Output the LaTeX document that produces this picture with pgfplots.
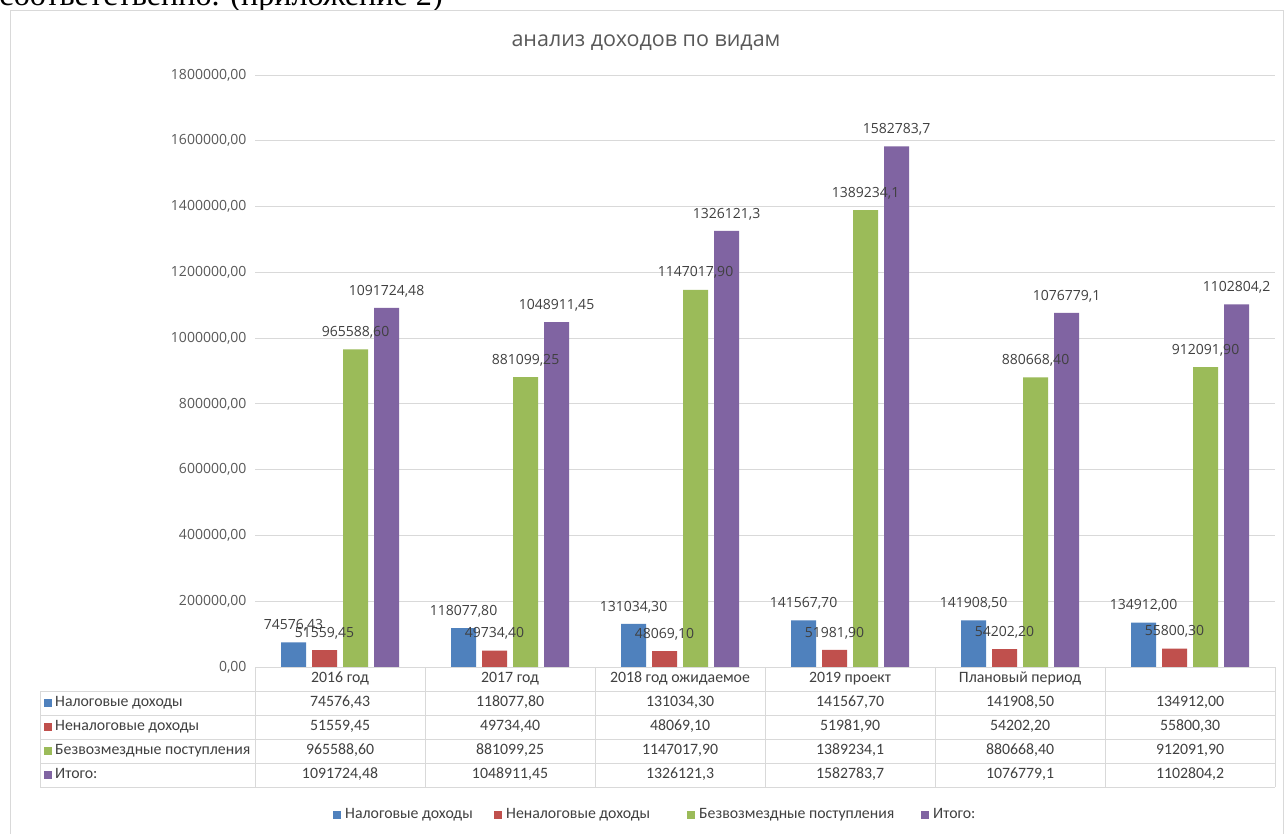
\documentclass[border=0pt]{standalone}
\usepackage{pgfplots}
\pgfplotsset{compat=1.18}
\usepackage{pgfplotstable}
\usepackage{fontspec}
\setmainfont{Carlito}
\newfontfamily\os{Open Sans}
\newfontfamily\tnr{Liberation Serif}
\definecolor{cBlue}{HTML}{4F81BD}
\definecolor{cRed}{HTML}{C0504D}
\definecolor{cGreen}{HTML}{9BBB59}
\definecolor{cPurple}{HTML}{8064A2}
\definecolor{tgray}{HTML}{595959}
\definecolor{lgray}{HTML}{D9D9D9}
\definecolor{ttext}{HTML}{404040}

\pgfplotstableread{
x y lab
0 74576.43 74576,43
1 118077.80 118077,80
2 131034.30 131034,30
3 141567.70 141567,70
4 141908.50 141908,50
5 134912.00 134912,00
}\tA
\pgfplotstableread{
x y lab
0 51559.45 51559,45
1 49734.40 49734,40
2 48069.10 48069,10
3 51981.90 51981,90
4 54202.20 54202,20
5 55800.30 55800,30
}\tB
\pgfplotstableread{
x y lab
0 965588.60 965588,60
1 881099.25 881099,25
2 1147017.90 1147017,90
3 1389234.1 1389234,1
4 880668.40 880668,40
5 912091.90 912091,90
}\tC
\pgfplotstableread{
x y lab
0 1091724.48 1091724,48
1 1048911.45 1048911,45
2 1326121.3 1326121,3
3 1582783.7 1582783,7
4 1076779.1 1076779,1
5 1102804.2 1102804,2
}\tD

\begin{document}
\begin{tikzpicture}
\useasboundingbox (0,0) rectangle (1285pt,-834pt);
\begin{scope}[x=1pt,y=-1pt]
\node[anchor=base east, inner sep=0pt, font=\tnr\fontsize{32.2}{34}\selectfont] at (443,5.5) {соответственно. (приложение 2)};
\draw[lgray, line width=0.8pt, fill=white] (10,10) rectangle (1283.5,850);
\node[font=\os\fontsize{21.5}{24}\selectfont, text=tgray] at (646,43) {анализ доходов по видам};
\end{scope}

\begin{axis}[
  at={(255pt,-667pt)}, anchor=south west,
  width=1020pt, height=592pt, scale only axis,
  xmin=-0.5, xmax=5.5, ymin=0, ymax=1800000,
  ybar=6pt, bar width=25pt,
  xtick=\empty,
  ytick={0,200000,400000,600000,800000,1000000,1200000,1400000,1600000,1800000},
  ymajorgrids, grid style={lgray, line width=0.8pt},
  axis line style={draw=none},
  major tick length=0pt,
  scaled y ticks=false,
  yticklabel style={font=\os\fontsize{14}{16}\selectfont, text=tgray, xshift=-5pt,
    /pgf/number format/.cd, fixed, fixed zerofill, precision=2, use comma, 1000 sep={}, assume math mode=true},
  nodes near coords={\pgfplotspointmeta},
  point meta=explicit symbolic,
  every node near coord/.append style={font=\os\fontsize{14}{16}\selectfont, text=ttext, anchor=center, yshift=17pt},
]
\addplot[fill=cBlue, draw=none] table[x=x, y=y, meta=lab] {\tA};
\addplot[fill=cRed, draw=none] table[x=x, y=y, meta=lab] {\tB};
\addplot[fill=cGreen, draw=none] table[x=x, y=y, meta=lab] {\tC};
\addplot[fill=cPurple, draw=none] table[x=x, y=y, meta=lab] {\tD};
\end{axis}

\begin{scope}[x=1pt,y=-1pt, every node/.style={font=\fontsize{15.8}{18}\selectfont, text=ttext, inner sep=0pt, text height=10.5pt, text depth=3pt}]
\draw[lgray, line width=0.8pt] (255,667) -- (1275,667);
\foreach \yy in {691,715,739,763,787} \draw[lgray, line width=0.8pt] (40,\yy) -- (1275,\yy);
\foreach \xx in {255,425,595,765,935,1105,1275} \draw[lgray, line width=0.8pt] (\xx,667) -- (\xx,787);
\draw[lgray, line width=0.8pt] (40,691) -- (40,787);
% header
\node at (340,679) {2016 год};
\node at (510,679) {2017 год};
\node at (680,679) {2018 год ожидаемое};
\node at (850,679) {2019 проект};
\node at (1020,679) {Плановый период};
% row labels
\fill[cBlue] (44,699) rectangle (52,707);
\node[anchor=west] at (55,703) {Налоговые доходы};
\fill[cRed] (44,723) rectangle (52,731);
\node[anchor=west] at (55,727) {Неналоговые доходы};
\fill[cGreen] (44,747) rectangle (52,755);
\node[anchor=west] at (55,751) {Безвозмездные поступления};
\fill[cPurple] (44,771) rectangle (52,779);
\node[anchor=west] at (55,775) {Итого:};
% values
\node at (340,703) {74576,43};
\node at (510,703) {118077,80};
\node at (680,703) {131034,30};
\node at (850,703) {141567,70};
\node at (1020,703) {141908,50};
\node at (1190,703) {134912,00};
\node at (340,727) {51559,45};
\node at (510,727) {49734,40};
\node at (680,727) {48069,10};
\node at (850,727) {51981,90};
\node at (1020,727) {54202,20};
\node at (1190,727) {55800,30};
\node at (340,751) {965588,60};
\node at (510,751) {881099,25};
\node at (680,751) {1147017,90};
\node at (850,751) {1389234,1};
\node at (1020,751) {880668,40};
\node at (1190,751) {912091,90};
\node at (340,775) {1091724,48};
\node at (510,775) {1048911,45};
\node at (680,775) {1326121,3};
\node at (850,775) {1582783,7};
\node at (1020,775) {1076779,1};
\node at (1190,775) {1102804,2};
% legend
\fill[cBlue] (333,811) rectangle (341,819);
\node[anchor=west] at (345,815) {Налоговые доходы};
\fill[cRed] (494,811) rectangle (502,819);
\node[anchor=west] at (506,815) {Неналоговые доходы};
\fill[cGreen] (687,811) rectangle (695,819);
\node[anchor=west] at (699,815) {Безвозмездные поступления};
\fill[cPurple] (921,811) rectangle (929,819);
\node[anchor=west] at (933,815) {Итого:};
\end{scope}
\end{tikzpicture}
\end{document}
